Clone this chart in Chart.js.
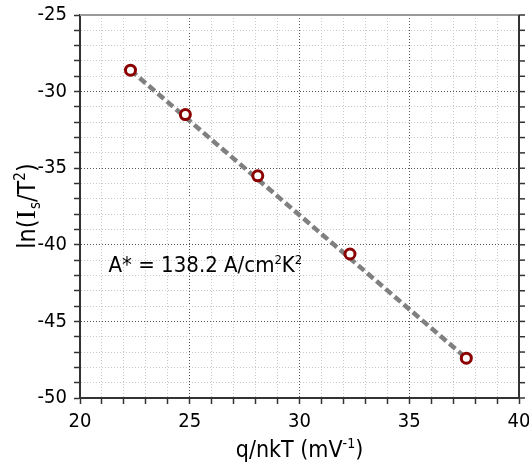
<!DOCTYPE html>
<html>
<head>
<meta charset="utf-8">
<script src="https://cdn.jsdelivr.net/npm/chart.js@4.4.0/dist/chart.umd.min.js"></script>
<style>body{margin:0;background:#fff}</style>
</head>
<body>
<canvas id="myChart" width="529" height="464"></canvas>
<script>
// measured points
var qnkT = [22.3, 24.8, 28.1, 32.3, 37.6];
var lnIsT2 = [-28.6, -31.5, -35.5, -40.6, -47.4];
// fitted line ends
var fitX = [22.3, 37.6];
var fitY = [-28.6, -47.4];
var xLabels = [20, 25, 30, 35, 40];
var yLabels = [-50, -45, -40, -35, -30, -25];
// rich text pieces: [text, kind]
var xTitle = [['q/nkT (mV', ''], ['-1', 'sup'], [')', '']];
var yTitle = [['ln(', ''], ['I', 'serif'], ['s', 'sub'], ['/T', ''], ['2', 'sup'], [')', '']];
var note = [['A* = 138.2 A/cm', ''], ['2', 'sup'], ['K', ''], ['2', 'sup']];
var noteAt = [21.3, -41.8];

var FONT = '"DejaVu Sans Condensed", "DejaVu Sans", sans-serif';

function partFont(p, size) {
    var s = (p[1] == 'sup' || p[1] == 'sub') ? Math.round(size * 0.6) : size;
    var fam = p[1] == 'serif' ? '"Liberation Serif", serif' : FONT;
    if (p[1] == 'serif') s = Math.round(size * 1.1);
    return s + 'px ' + fam;
}
function richWidth(ctx, parts, size) {
    var w = 0;
    parts.forEach(function (p) { ctx.font = partFont(p, size); w += ctx.measureText(p[0]).width; });
    return w;
}
function drawRich(ctx, parts, size, x, y) {
    parts.forEach(function (p) {
        ctx.font = partFont(p, size);
        var dy = p[1] == 'sup' ? -size * 0.4 : (p[1] == 'sub' ? size * 0.2 : 0);
        ctx.fillText(p[0], x, y + dy);
        x += ctx.measureText(p[0]).width + (p[1] == 'serif' ? 1 : 0);
    });
}

var extras = {
    id: 'extras',
    beforeDatasetsDraw: function (chart) {
        var ctx = chart.ctx, a = chart.chartArea, ys = chart.scales.y;
        ctx.save();
        // top frame line
        ctx.strokeStyle = '#9a9a9a';
        ctx.lineWidth = 2;
        ctx.beginPath(); ctx.moveTo(a.left, a.top); ctx.lineTo(a.right, a.top); ctx.stroke();
        // right frame with outward ticks
        ctx.strokeStyle = '#333';
        ctx.beginPath(); ctx.moveTo(a.right, a.top); ctx.lineTo(a.right, a.bottom + 1); ctx.stroke();
        ctx.lineWidth = 1.5;
        ys.ticks.forEach(function (t) {
            var py = ys.getPixelForValue(t.value);
            ctx.beginPath(); ctx.moveTo(a.right, py); ctx.lineTo(a.right + 6, py); ctx.stroke();
        });
        ctx.restore();
    },
    afterDraw: function (chart) {
        var ctx = chart.ctx, a = chart.chartArea;
        var xs = chart.scales.x, ys = chart.scales.y;
        ctx.save();
        ctx.fillStyle = '#000';
        ctx.textBaseline = 'alphabetic';
        // x title
        var w = richWidth(ctx, xTitle, 23);
        drawRich(ctx, xTitle, 23, (a.left + a.right) / 2 - w / 2, 457);
        // y title
        ctx.save();
        ctx.translate(35, (a.top + a.bottom) / 2);
        ctx.rotate(-Math.PI / 2);
        w = richWidth(ctx, yTitle, 25);
        drawRich(ctx, yTitle, 25, -w / 2, 0);
        ctx.restore();
        // annotation
        drawRich(ctx, note, 22, xs.getPixelForValue(noteAt[0]), ys.getPixelForValue(noteAt[1]));
        ctx.restore();
    }
};

var pts = qnkT.map(function (v, i) { return { x: v, y: lnIsT2[i] }; });
var fit = fitX.map(function (v, i) { return { x: v, y: fitY[i] }; });

function gridColor(c) { return c.tick && c.tick.value % 5 == 0 ? '#555' : '#c8c8c8'; }

var ctx = document.getElementById('myChart').getContext('2d');
var chart = new Chart(ctx, {
    type: 'scatter',
    data: {
        datasets: [{
            data: pts,
            order: 1,
            pointRadius: 5,
            pointBorderWidth: 3,
            pointBackgroundColor: '#fff',
            pointBorderColor: '#8b0000'
        }, {
            data: fit,
            order: 2,
            showLine: true,
            pointRadius: 0,
            borderColor: '#808080',
            borderWidth: 4.5,
            borderDash: [8, 4]
        }]
    },
    options: {
        responsive: false,
        animation: false,
        layout: { padding: { top: 15, right: 10, left: 0, bottom: 0 } },
        plugins: { legend: { display: false }, tooltip: { enabled: false } },
        scales: {
            x: {
                type: 'linear', min: 20, max: 40,
                afterFit: function (s) { s.height = 66; s.paddingLeft = 0; s.paddingRight = 0; },
                ticks: {
                    stepSize: 1, autoSkip: false, maxRotation: 0, padding: 6,
                    color: '#000', font: { size: 20, family: FONT },
                    callback: function (v) { return xLabels.indexOf(v) >= 0 ? String(v) : ''; }
                },
                grid: { color: gridColor, tickColor: '#333', tickLength: 6, tickWidth: 1.5 },
                border: { color: '#333', width: 2, dash: [1, 2] }
            },
            y: {
                type: 'linear', min: -50, max: -25,
                afterFit: function (s) { s.width = 80; s.paddingTop = 0; s.paddingBottom = 0; },
                ticks: {
                    stepSize: 1, autoSkip: false, padding: 7,
                    color: '#000', font: { size: 20, family: FONT },
                    callback: function (v) { return yLabels.indexOf(v) >= 0 ? String(v) : ''; }
                },
                grid: { color: gridColor, tickColor: '#333', tickLength: 6, tickWidth: 1.5 },
                border: { color: '#333', width: 2, dash: [1, 2] }
            }
        }
    },
    plugins: [extras]
});
</script>
</body>
</html>
